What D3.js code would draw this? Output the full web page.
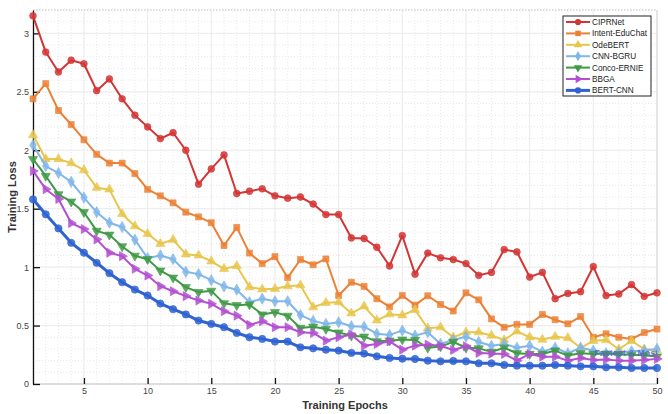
<!DOCTYPE html>
<html>
<head>
<meta charset="utf-8">
<script src="https://cdn.jsdelivr.net/npm/d3@7"></script>
<style>
  body { margin: 0; background: #fff; }
  svg { font-family: "Liberation Sans", Arial, sans-serif; }
</style>
</head>
<body>
<svg id="chart" width="668" height="414"></svg>
<script>
const epochs = d3.range(1, 51);
const yTicks = [0, 0.5, 1, 1.5, 2, 2.5, 3];
const xTicks = [5, 10, 15, 20, 25, 30, 35, 40, 45, 50];

const ciprnet = [3.15,2.84,2.67,2.77,2.74,2.51,2.61,2.44,2.30,2.20,2.10,2.15,2.00,1.71,1.84,1.96,1.63,1.65,1.67,1.61,1.59,1.60,1.54,1.45,1.45,1.25,1.245,1.17,1.01,1.27,0.94,1.12,1.08,1.065,1.03,0.93,0.955,1.15,1.13,0.915,0.955,0.73,0.775,0.79,1.005,0.757,0.77,0.85,0.75,0.78];
const eduChat = [2.44,2.57,2.34,2.22,2.09,1.965,1.89,1.89,1.80,1.665,1.61,1.55,1.47,1.43,1.38,1.185,1.34,1.12,1.03,1.09,0.91,1.065,1.02,1.07,0.757,0.87,0.835,0.73,0.66,0.757,0.675,0.755,0.68,0.625,0.78,0.72,0.557,0.485,0.51,0.51,0.595,0.55,0.515,0.577,0.40,0.43,0.40,0.385,0.44,0.47];
const odeBert = [2.13,1.925,1.925,1.89,1.83,1.68,1.665,1.455,1.35,1.285,1.20,1.235,1.11,1.10,1.05,0.985,1.01,0.83,0.81,0.815,0.837,0.845,0.657,0.695,0.70,0.605,0.665,0.545,0.597,0.588,0.634,0.477,0.486,0.40,0.443,0.443,0.415,0.377,0.45,0.40,0.38,0.405,0.394,0.31,0.37,0.377,0.297,0.37,0.297,0.29];
const cnnBgru = [2.045,1.865,1.805,1.73,1.595,1.47,1.38,1.343,1.235,1.077,1.10,1.068,0.96,0.94,0.888,0.835,0.807,0.70,0.73,0.708,0.708,0.59,0.54,0.514,0.528,0.494,0.49,0.43,0.42,0.457,0.414,0.443,0.343,0.377,0.405,0.36,0.327,0.343,0.31,0.328,0.277,0.31,0.263,0.31,0.286,0.263,0.27,0.28,0.286,0.30];
const concoErnie = [1.925,1.78,1.623,1.56,1.47,1.31,1.277,1.177,1.097,1.068,0.97,0.91,0.828,0.786,0.797,0.69,0.674,0.68,0.594,0.614,0.583,0.48,0.49,0.47,0.44,0.414,0.405,0.365,0.37,0.38,0.377,0.31,0.32,0.36,0.31,0.305,0.275,0.31,0.263,0.257,0.257,0.286,0.243,0.263,0.257,0.26,0.255,0.25,0.245,0.235];
const bbga = [1.823,1.667,1.583,1.377,1.326,1.237,1.123,1.094,0.986,0.928,0.837,0.794,0.752,0.714,0.686,0.623,0.585,0.506,0.537,0.486,0.486,0.443,0.437,0.371,0.40,0.423,0.328,0.343,0.365,0.294,0.328,0.337,0.326,0.291,0.323,0.266,0.26,0.257,0.2,0.257,0.234,0.234,0.2,0.223,0.205,0.21,0.2,0.2,0.205,0.215];
const bertCnn = [1.58,1.452,1.331,1.208,1.123,1.037,0.948,0.871,0.808,0.757,0.688,0.64,0.595,0.543,0.514,0.486,0.437,0.40,0.386,0.363,0.363,0.314,0.305,0.294,0.286,0.266,0.26,0.237,0.223,0.217,0.214,0.2,0.194,0.197,0.194,0.177,0.177,0.163,0.157,0.157,0.157,0.163,0.157,0.151,0.151,0.143,0.143,0.137,0.137,0.137];

const seriesNames = ["CIPRNet", "Intent-EduChat", "OdeBERT", "CNN-BGRU", "Conco-ERNIE", "BBGA", "BERT-CNN"];
const seriesValues = [ciprnet, eduChat, odeBert, cnnBgru, concoErnie, bbga, bertCnn];
const seriesColors = ["#d33535", "#ec8136", "#e8c64c", "#80b6ea", "#3f9a45", "#b350d1", "#2f63d2"];

// marker shape + rotation per series
const markers = [
  [d3.symbolCircle, 0], [d3.symbolSquare, 0], [d3.symbolTriangle, 0], [d3.symbolDiamond, 0],
  [d3.symbolTriangle, 180], [d3.symbolTriangle, 90], [d3.symbolCircle, 0]
];

const svg = d3.select("#chart");
const margin = { left: 33, right: 11, top: 10, bottom: 30 };
const W = 668, H = 414;

const x = d3.scaleLinear().domain([1, 50]).range([margin.left, W - margin.right]);
const y = d3.scaleLinear().domain([0, 3.2]).range([H - margin.bottom, margin.top]);

const grid = svg.append("g");
// minor grid
grid.selectAll(".vminor").data(epochs).join("line")
  .attr("x1", d => x(d)).attr("x2", d => x(d))
  .attr("y1", y(0)).attr("y2", y(3.2))
  .attr("stroke", "#e2e2e2").attr("stroke-dasharray", "1,2").attr("stroke-width", 0.8);
grid.selectAll(".hminor").data(d3.range(0, 32).map(i => i / 10)).join("line")
  .attr("x1", x(1)).attr("x2", x(50))
  .attr("y1", d => y(d)).attr("y2", d => y(d))
  .attr("stroke", "#e2e2e2").attr("stroke-dasharray", "1,2").attr("stroke-width", 0.8);
// major grid
grid.selectAll(".vmajor").data(xTicks).join("line")
  .attr("x1", d => x(d)).attr("x2", d => x(d))
  .attr("y1", y(0)).attr("y2", y(3.2))
  .attr("stroke", "#ececec").attr("stroke-width", 1);
grid.selectAll(".hmajor").data(yTicks).join("line")
  .attr("x1", x(1)).attr("x2", x(50))
  .attr("y1", d => y(d)).attr("y2", d => y(d))
  .attr("stroke", "#ececec").attr("stroke-width", 1);

// box: top dotted, right + bottom light
svg.append("line").attr("x1", x(1)).attr("x2", x(50)).attr("y1", y(3.2)).attr("y2", y(3.2))
  .attr("stroke", "#bbb").attr("stroke-dasharray", "1.5,1.5");
svg.append("line").attr("x1", x(50)).attr("x2", x(50)).attr("y1", y(3.2)).attr("y2", y(0))
  .attr("stroke", "#d8d8d8");
svg.append("line").attr("x1", x(1)).attr("x2", x(50)).attr("y1", y(0)).attr("y2", y(0))
  .attr("stroke", "#c8c8c8");

// axes
const xAxis = d3.axisBottom(x).tickValues(xTicks).tickSizeInner(-6).tickSizeOuter(0).tickPadding(4);
const gx = svg.append("g").attr("transform", `translate(0,${y(0)})`).call(xAxis);
gx.select(".domain").remove();
gx.selectAll(".tick line").attr("stroke", "#111").attr("stroke-width", 1.3);
gx.selectAll("text").attr("fill", "#444").attr("font-size", 9);

const yAxis = d3.axisLeft(y).tickValues(yTicks).tickFormat(d3.format("~g"))
  .tickSizeInner(-7).tickSizeOuter(0).tickPadding(4);
const gy = svg.append("g").attr("transform", `translate(${x(1)},0)`).call(yAxis);
gy.select(".domain").attr("stroke", "#111").attr("stroke-width", 1.3);
gy.selectAll(".tick line").attr("stroke", "#111").attr("stroke-width", 1.3);
gy.selectAll("text").attr("fill", "#444").attr("font-size", 9).attr("x", -4);

// axis titles
svg.append("text").attr("x", (x(1) + x(50)) / 2).attr("y", 409).attr("text-anchor", "middle")
  .attr("font-size", 11).attr("font-weight", "bold").attr("fill", "#333").text("Training Epochs");
svg.append("text").attr("transform", `translate(16,${(y(0) + y(3.2)) / 2}) rotate(-90)`)
  .attr("text-anchor", "middle").attr("font-size", 11).attr("font-weight", "bold").attr("fill", "#333")
  .text("Training Loss");

// series
const line = d3.line().x((d, i) => x(epochs[i])).y(d => y(d));
const plot = svg.append("g");
seriesValues.forEach((vals, k) => {
  const g = plot.append("g");
  const c = seriesColors[k];
  g.append("path").datum(vals).attr("d", line).attr("fill", "none")
    .attr("stroke", c).attr("stroke-width", k === 6 ? 3 : 2).attr("stroke-linejoin", "round");
  const sym = d3.symbol().type(markers[k][0]).size(k === 6 ? 42 : 36);
  g.selectAll("path.m").data(vals).join("path").attr("class", "m")
    .attr("d", sym)
    .attr("transform", (d, i) => `translate(${x(epochs[i])},${y(d)}) rotate(${markers[k][1]})`)
    .attr("fill", c).attr("fill-opacity", 0.85).attr("stroke", c).attr("stroke-width", 1)
    .attr("stroke-opacity", 0.6);
});

// annotation, clipped at plot edge like the original
svg.append("clipPath").attr("id", "clip").append("rect")
  .attr("x", x(1)).attr("y", y(3.2)).attr("width", x(50) - x(1)).attr("height", y(0) - y(3.2));
svg.append("text").attr("clip-path", "url(#clip)")
  .attr("x", x(45) + 1).attr("y", y(0.26) + 2)
  .attr("font-size", 9).attr("font-weight", "bold").attr("fill", "#5563d8").attr("fill-opacity", 0.85)
  .text("Fastest & Most Stable");

// legend
const leg = svg.append("g").attr("transform", "translate(563,16)");
leg.append("rect").attr("width", 88).attr("height", 80).attr("fill", "#fff")
  .attr("stroke", "#222").attr("stroke-width", 1);
seriesNames.forEach((name, k) => {
  const ly = 6 + k * 11.4;
  const c = seriesColors[k];
  leg.append("line").attr("x1", 3).attr("x2", 27).attr("y1", ly).attr("y2", ly)
    .attr("stroke", c).attr("stroke-width", k === 6 ? 3 : 2);
  leg.append("path").attr("d", d3.symbol().type(markers[k][0]).size(30))
    .attr("transform", `translate(15,${ly}) rotate(${markers[k][1]})`).attr("fill", c);
  leg.append("text").attr("x", 29).attr("y", ly + 3).attr("font-size", 8.2).attr("fill", "#222").text(name);
});
</script>
</body>
</html>
